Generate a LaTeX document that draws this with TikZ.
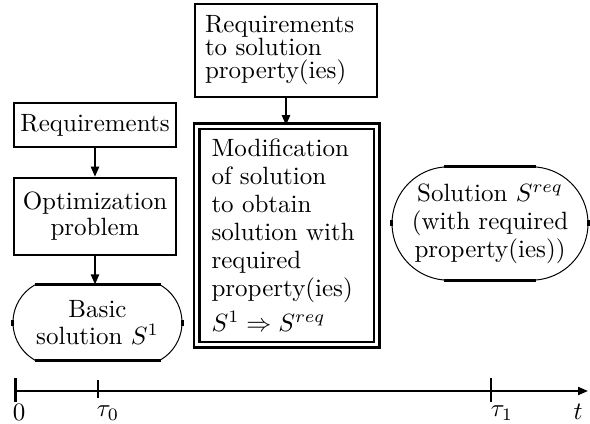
\documentclass[tikz,border=0pt]{standalone}
\usetikzlibrary{shapes.misc,arrows.meta}
\begin{document}
\begin{tikzpicture}[x=0.4pt,y=-0.4pt,font=\fontsize{10}{11.2}\selectfont,
  box/.style={draw,line width=1pt,inner sep=0pt},
  oval/.style={draw,line width=0.4pt,rounded rectangle,inner sep=0pt},
  link/.style={line width=0.8pt,-{Triangle[length=4pt,width=3.2pt]}}]
\useasboundingbox (0,0) rectangle (590,424);

% left column
\node[box,minimum width=64.8pt,minimum height=17.6pt] (req) at (95,125) {Requirements};
\node[box,minimum width=64.8pt,minimum height=30.8pt,align=center] (opt) at (95,216.5) {Optimization\\[-0.8pt]problem};
\node[oval,rounded rectangle arc length=120,minimum width=67.6pt,minimum height=30pt,align=center] (bas) at (97.5,322.5) {Basic\\[-0.4pt]solution $S^1$};

% middle column
\node[box,minimum width=72.8pt,minimum height=37.2pt,text width=64.8pt,align=left] (prop) at (286,50.5) {Requirements\\[-2pt]to solution\\[-2pt]property(ies)};
\node[box,double,double distance=1.2pt,minimum width=72pt,minimum height=87.2pt,text width=60pt,align=left] (mod) at (286.5,235.5) {Modification\\of solution\\to obtain\\solution with\\required\\property(ies)\\[2.8pt]$S^1\Rightarrow S^{req}$};

% right
\node[oval,rounded rectangle arc length=170,minimum width=78.4pt,minimum height=45.2pt,align=center] (sol) at (490,223.5) {Solution $S^{req}$\\(with required\\property(ies))};

% thick top and bottom of the ovals
\draw[line width=1pt] ([xshift=-25.2pt]bas.north) -- ([xshift=25.2pt]bas.north);
\draw[line width=1pt] ([xshift=-25.2pt]bas.south) -- ([xshift=25.2pt]bas.south);
\draw[line width=1pt] ([xshift=-18.4pt]sol.north) -- ([xshift=18.4pt]sol.north);
\draw[line width=1pt] ([xshift=-18.4pt]sol.south) -- ([xshift=18.4pt]sol.south);
\draw[line width=1pt] (bas.west) ++(0,-3) -- ++(0,6);
\draw[line width=1pt] (bas.east) ++(0,-3) -- ++(0,6);
\draw[line width=1pt] (sol.west) ++(0,-3) -- ++(0,6);
\draw[line width=1pt] (sol.east) ++(0,-3) -- ++(0,6);

\draw[link] (req.south) -- (opt.north);
\draw[link] (opt.south) -- (opt.south |- bas.north);
\draw[link] (prop.south) -- (prop.south |- mod.north);

% time axis
\coordinate (o) at (15,391);
\coordinate (tau0) at (98,391);
\coordinate (tau1) at (491,391);
\coordinate (tend) at (588,391);
\draw[line width=0.8pt,-{Triangle[length=4pt,width=3.2pt]}] (o) -- (tend);
\draw[line width=1.2pt] (o) ++(0,-13) -- ++(0,24);
\draw[line width=0.8pt] (tau0) ++(0,-11) -- ++(0,18);
\draw[line width=0.8pt] (tau1) ++(0,-13) -- ++(0,24);
\node (l0) at (19,412) {$0$};
\node (lt0) at (108,413) {$\tau_0$};
\node (lt1) at (502,413) {$\tau_1$};
\node (lt) at (578,412) {$t$};
\end{tikzpicture}
\end{document}
